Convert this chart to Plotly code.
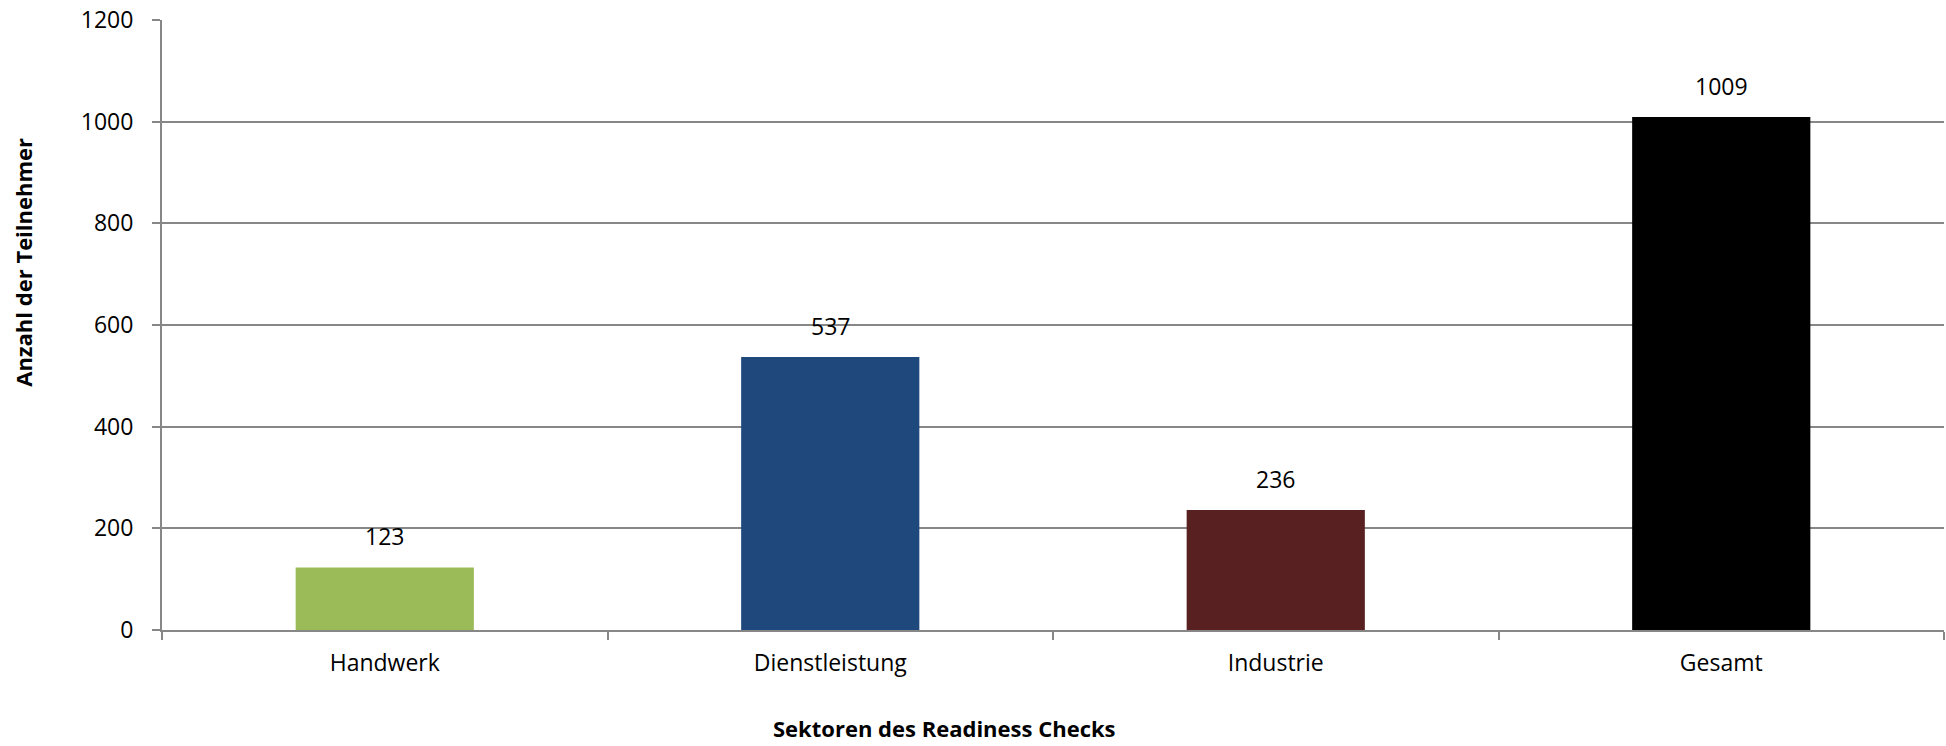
import plotly.graph_objects as go

categories = ["Handwerk", "Dienstleistung", "Industrie", "Gesamt"]
values = [123, 537, 236, 1009]
colors = ["#9BBB59", "#1F497D", "#582020", "#000000"]
y_ticks = [0, 200, 400, 600, 800, 1000, 1200]

FONT = "Open Sans"
GRID = "#878787"

fig = go.Figure()
fig.add_trace(go.Bar(
    x=categories, y=values, marker=dict(color=colors, line=dict(width=0)),
    width=0.4, hoverinfo="x+y",
))

for c, v in zip(categories, values):
    fig.add_annotation(x=c, y=v, text=str(v), showarrow=False, yanchor="bottom",
                       yshift=13, font=dict(family=FONT, size=23, color="#000"))

fig.add_annotation(xref="paper", yref="paper", x=0.439, y=-0.161, text="<b>Sektoren des Readiness Checks</b>",
                   showarrow=False, xanchor="center", yanchor="middle", borderpad=0,
                   font=dict(family=FONT, size=22, color="#000"))
fig.add_annotation(xref="paper", yref="paper", x=-0.078, y=0.602, text="<b>Anzahl der Teilnehmer</b>",
                   showarrow=False, textangle=-90, xanchor="center", yanchor="middle",
                   font=dict(family=FONT, size=22, color="#000"))

fig.update_layout(
    width=1946, height=746, autosize=False,
    margin=dict(l=162, r=2, t=20, b=116),
    plot_bgcolor="white", paper_bgcolor="white",
    showlegend=False, bargap=0.6,
    font=dict(family=FONT, size=23, color="#000"),
)
fig.update_xaxes(
    showline=True, linecolor=GRID, linewidth=2,
    ticks="outside", ticklen=8, tickcolor=GRID, tickwidth=2,
    tickson="boundaries", showgrid=False, ticklabelstandoff=11,
    tickfont=dict(family=FONT, size=23, color="#000"),
)
fig.update_yaxes(
    range=[0, 1200], tickvals=y_ticks, showgrid=True, gridcolor=GRID, gridwidth=2,
    showline=True, linecolor=GRID, linewidth=2, zeroline=False,
    ticks="outside", ticklen=8, tickcolor=GRID, tickwidth=2, ticklabelstandoff=14,
    tickfont=dict(family=FONT, size=23, color="#000"),
)

fig.write_html("out.html", config={"displayModeBar": False},
               post_script="document.body.style.margin='0';document.body.style.overflow='hidden';")
